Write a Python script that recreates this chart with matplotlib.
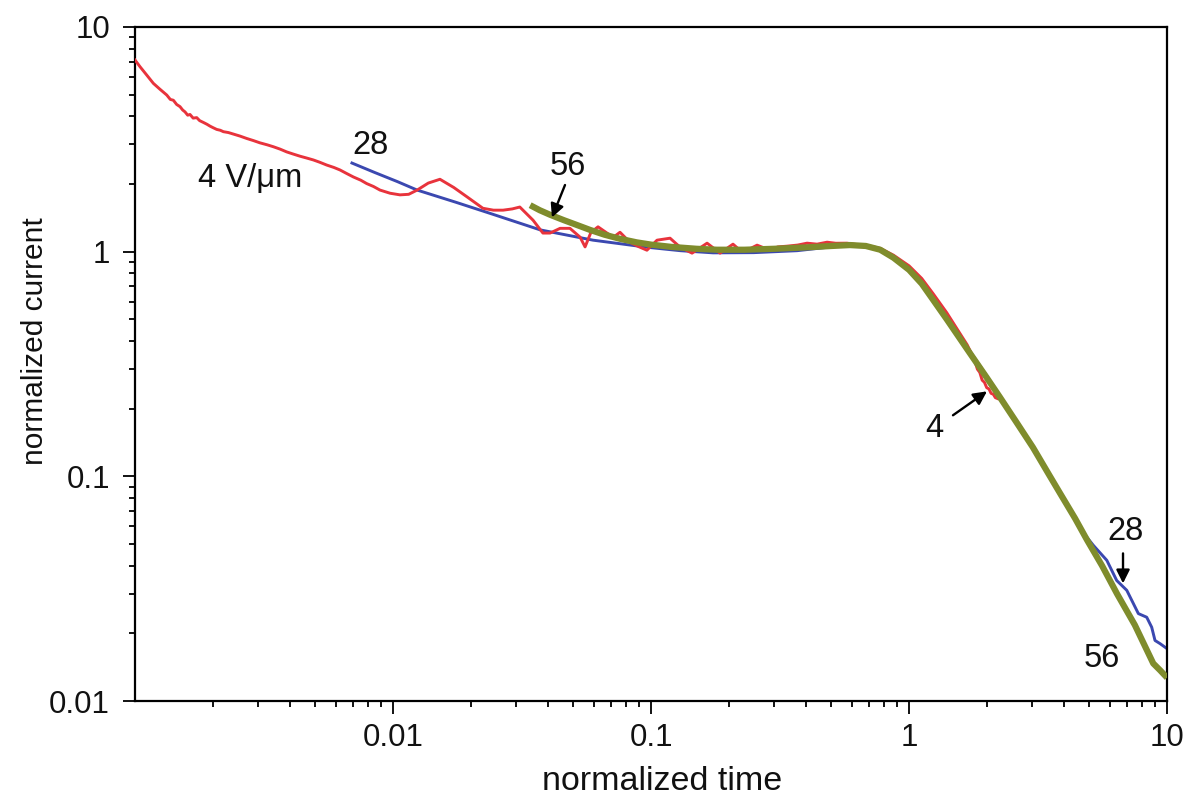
import matplotlib
matplotlib.use('Agg')
from matplotlib import pyplot as plt
from matplotlib.ticker import LogLocator, NullFormatter

plt.rcParams['font.family'] = ['Liberation Sans', 'DejaVu Sans']

# 4 V/um (red)
red_t = [0.001, 0.001045, 0.00111, 0.001178, 0.00125, 0.001327, 0.00137, 0.001408, 0.00145,
         0.001494, 0.00153, 0.001562, 0.0016, 0.001633, 0.00168, 0.001734, 0.00178, 0.00184,
         0.0019, 0.001953, 0.002, 0.002073, 0.00214, 0.0022, 0.0023, 0.0024, 0.00255, 0.00271,
         0.00288, 0.00305, 0.00325, 0.00344, 0.00365, 0.00387, 0.0041, 0.00436, 0.00463,
         0.00491, 0.0052, 0.00553, 0.0059, 0.00623, 0.0066, 0.00702, 0.0075, 0.0079, 0.0084,
         0.0089, 0.00974, 0.01064, 0.0115, 0.0124, 0.0137, 0.0152, 0.0172, 0.0194, 0.0223,
         0.0245, 0.0267, 0.029, 0.031, 0.0349, 0.0381, 0.0406, 0.0444, 0.0485, 0.0531, 0.0555,
         0.0585, 0.0623, 0.0675, 0.0715, 0.0758, 0.0829, 0.09, 0.0964, 0.1055, 0.1185, 0.1296,
         0.1442, 0.1649, 0.1851, 0.2078, 0.22, 0.2355, 0.2576, 0.2891, 0.31, 0.3366, 0.37,
         0.4024, 0.44, 0.4811, 0.52, 0.575, 0.63, 0.6874, 0.773, 0.87, 1.0, 1.12, 1.24, 1.4,
         1.55, 1.68, 1.76, 1.8, 1.84, 1.88, 1.92, 1.96, 2.0, 2.04, 2.08, 2.12, 2.16, 2.2]
red_i = [7.13, 6.66, 6.11, 5.61, 5.28, 4.98, 4.76, 4.72, 4.52,
         4.42, 4.27, 4.19, 4.05, 4.08, 3.93, 3.95, 3.83, 3.76,
         3.69, 3.62, 3.57, 3.50, 3.47, 3.42, 3.39, 3.34, 3.27, 3.19,
         3.12, 3.05, 2.99, 2.93, 2.86, 2.78, 2.72, 2.66, 2.61,
         2.56, 2.50, 2.43, 2.37, 2.31, 2.23, 2.15, 2.08, 2.01, 1.95,
         1.88, 1.82, 1.79, 1.80, 1.88, 2.02, 2.10, 1.93, 1.75, 1.56,
         1.53, 1.53, 1.55, 1.58, 1.38, 1.21, 1.21, 1.27, 1.27, 1.16, 1.05,
         1.22, 1.29, 1.21, 1.16, 1.22, 1.10, 1.05, 1.015, 1.125, 1.148, 1.047,
         0.985, 1.091, 0.985, 1.080, 1.02, 1.015, 1.069, 1.015, 1.05, 1.058, 1.07,
         1.091, 1.08, 1.102, 1.09, 1.091, 1.075, 1.065, 1.035, 0.965, 0.865, 0.76, 0.65, 0.535,
         0.445, 0.385, 0.345, 0.325, 0.30, 0.29, 0.268, 0.262, 0.248, 0.245, 0.234, 0.232, 0.224, 0.222]

# 28 V/um (blue)
blue_t = [0.00693, 0.0085, 0.0104, 0.0124, 0.0175, 0.0238, 0.0372, 0.0596, 0.096, 0.13,
          0.174, 0.25, 0.368, 0.48, 0.575, 0.68, 0.773, 0.87, 1.0, 1.12, 1.24, 1.4, 1.68,
          2.0, 2.25, 2.6, 3.02, 3.5, 3.85, 4.4, 4.74, 5.18, 5.84, 6.38, 6.98, 7.41, 7.74,
          8.34, 8.72, 8.98, 9.4, 10.0]
blue_i = [2.48, 2.25, 2.05, 1.88, 1.66, 1.48, 1.25, 1.125, 1.047, 1.01,
          0.988, 0.99, 1.01, 1.045, 1.065, 1.055, 1.015, 0.95, 0.845, 0.735, 0.625, 0.51, 0.375,
          0.28, 0.228, 0.177, 0.136, 0.102, 0.085, 0.0655, 0.056, 0.0493, 0.0423, 0.0344, 0.0311,
          0.0271, 0.0245, 0.0236, 0.0213, 0.0186, 0.018, 0.0171]

# 56 V/um (olive)
green_t = [0.034, 0.037, 0.0406, 0.046, 0.052, 0.058, 0.066, 0.076, 0.088, 0.1, 0.12, 0.15,
           0.18, 0.23, 0.3, 0.4, 0.5, 0.59, 0.68, 0.773, 0.87, 1.0, 1.12, 1.24, 1.4, 1.68,
           2.0, 2.25, 2.6, 3.02, 3.5, 3.85, 4.4, 4.9, 5.6, 6.4, 7.5, 8.84, 9.4, 10.0]
green_i = [1.61, 1.53, 1.46, 1.38, 1.31, 1.25, 1.19, 1.14, 1.10, 1.075, 1.05, 1.03,
           1.02, 1.02, 1.03, 1.045, 1.06, 1.07, 1.06, 1.02, 0.94, 0.83, 0.72, 0.61, 0.50, 0.368,
           0.275, 0.225, 0.175, 0.1346, 0.101, 0.084, 0.065, 0.052, 0.040, 0.030, 0.0218,
           0.0147, 0.0137, 0.0127]

xticks = [0.01, 0.1, 1, 10]
xtick_labels = ['0.01', '0.1', '1', '10']
yticks = [0.01, 0.1, 1, 10]
ytick_labels = ['0.01', '0.1', '1', '10']

fig = plt.figure(figsize=(11.96, 8.08), dpi=100)
ax = fig.add_axes([0.1129, 0.1324, 0.8629, 0.8342])

ax.plot(blue_t, blue_i, color='#3b48b0', lw=2.1, zorder=2)
ax.plot(red_t, red_i, color='#e8333c', lw=2.1, zorder=3)
ax.plot(green_t, green_i, color='#7f8c2c', lw=4.5, zorder=4, solid_capstyle='butt')

ax.set_xscale('log')
ax.set_yscale('log')
ax.set_xlim(0.001, 10)
ax.set_ylim(0.01, 10)

ax.set_xticks(xticks, labels=xtick_labels)
ax.set_yticks(yticks, labels=ytick_labels)
ax.xaxis.set_minor_locator(LogLocator(base=10, subs=range(2, 10), numticks=20))
ax.yaxis.set_minor_locator(LogLocator(base=10, subs=range(2, 10), numticks=20))
ax.xaxis.set_minor_formatter(NullFormatter())
ax.yaxis.set_minor_formatter(NullFormatter())

ax.tick_params(which='major', direction='out', length=9, width=1.4, labelsize=22.5,
               colors='#111111')
ax.tick_params(which='minor', direction='out', length=4.5, width=1.3)
ax.tick_params(axis='x', which='major', pad=7)
ax.tick_params(axis='y', which='major', pad=9)
for s in ax.spines.values():
    s.set_linewidth(1.6)

ax.set_xlabel('normalized time', fontsize=24.5, color='#111111')
ax.set_ylabel('normalized current', fontsize=21.5, color='#111111')
ax.xaxis.set_label_coords(0.511, -0.096)
ax.yaxis.set_label_coords(-0.083, 0.534)

txt = dict(fontsize=23.5, color='#111111', ha='center', va='baseline')
ax.text(0.00279, 1.94, '4 V/\u03bcm', **txt)
ax.text(0.00815, 2.72, '28', **txt)
ax.text(0.0477, 2.19, '56', **txt)
ax.text(1.25, 0.149, '4', **txt)
ax.text(6.93, 0.0519, '28', **txt)
ax.text(5.6, 0.0141, '56', **txt)

arrow = dict(arrowstyle='-|>', color='black', lw=1.7, mutation_scale=20,
             shrinkA=0, shrinkB=0)
ax.annotate('', xy=(0.0413, 1.42), xytext=(0.0464, 1.98), arrowprops=arrow, zorder=6)
ax.annotate('', xy=(2.005, 0.239), xytext=(1.48, 0.187), arrowprops=arrow, zorder=6)
ax.annotate('', xy=(6.75, 0.0334), xytext=(6.75, 0.0454), arrowprops=arrow, zorder=6)

fig.savefig('out.png', dpi=100)
